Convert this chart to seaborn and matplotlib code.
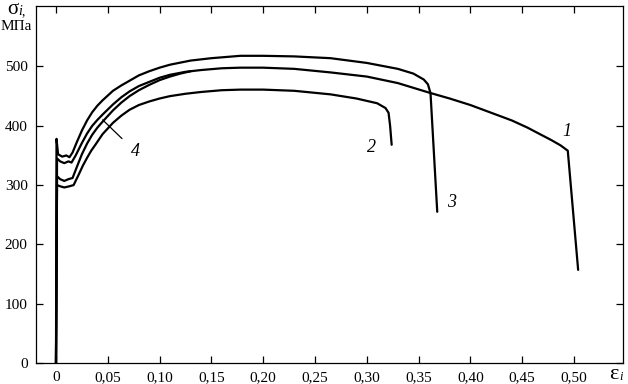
import matplotlib
matplotlib.use("Agg")
import matplotlib.pyplot as plt
import seaborn as sns
import pandas as pd

# ---- data (strain eps_i, stress sigma_i in MPa) ----
eps_1 = [0, 0.001, 0.004, 0.008, 0.012, 0.015, 0.019, 0.025, 0.030, 0.035, 0.040, 0.045,
         0.055, 0.063, 0.071, 0.08, 0.09, 0.10, 0.11, 0.125, 0.14, 0.16, 0.178, 0.2, 0.23,
         0.265, 0.3, 0.33, 0.36, 0.38, 0.40, 0.42, 0.44, 0.455, 0.467, 0.478, 0.487,
         0.494, 0.504]
sig_1 = [0, 345, 340, 337, 340, 338, 350, 371, 387, 400, 410, 419,
         436, 448, 458, 467, 474, 481, 486, 491, 494, 497, 498, 498, 496,
         490, 483, 472, 456, 446, 435, 422, 409, 397, 386, 376, 367,
         358, 157]

eps_2 = [0, 0.001, 0.004, 0.008, 0.013, 0.017, 0.022, 0.026, 0.03, 0.034, 0.038, 0.045,
         0.055, 0.063, 0.071, 0.08, 0.09, 0.10, 0.11, 0.125, 0.14, 0.16, 0.178, 0.2,
         0.23, 0.265, 0.29, 0.31, 0.318, 0.321, 0.3225, 0.324]
sig_2 = [0, 300, 298, 296, 298, 300, 318, 333, 346, 358, 368, 386,
         405, 417, 427, 435, 441, 446, 450, 454, 457, 460, 461, 461,
         459, 453, 446, 438, 430, 422, 400, 368]

eps_3 = [0, 0.0005, 0.002, 0.006, 0.010, 0.013, 0.016, 0.020, 0.025, 0.030, 0.035, 0.040,
         0.045, 0.055, 0.063, 0.071, 0.08, 0.09, 0.10, 0.11, 0.13, 0.15, 0.178, 0.2, 0.23,
         0.265, 0.3, 0.33, 0.345, 0.355, 0.359, 0.3615, 0.368]
sig_3 = [0, 378, 352, 348, 350, 347, 355, 372, 392, 409, 423, 434,
         443, 459, 468, 476, 485, 492, 498, 503, 510, 514, 518, 518, 517,
         514, 506, 496, 488, 478, 470, 455, 255]

eps_4 = [0, 0.001, 0.004, 0.008, 0.012, 0.016, 0.020, 0.025, 0.030, 0.035, 0.040, 0.045,
         0.055, 0.063, 0.071, 0.08, 0.09, 0.10, 0.11, 0.12, 0.13]
sig_4 = [0, 315, 310, 307, 310, 312, 330, 352, 370, 385, 397, 407,
         426, 439, 450, 460, 469, 477, 483, 488, 492]

curve_names = ["1", "2", "3", "4"]
x_ticks = [0, 0.05, 0.10, 0.15, 0.20, 0.25, 0.30, 0.35, 0.40, 0.45, 0.50]
x_tick_labels = ["0", "0,05", "0,10", "0,15", "0,20", "0,25", "0,30", "0,35", "0,40", "0,45", "0,50"]
y_ticks = [0, 100, 200, 300, 400, 500]
y_tick_labels = ["0", "100", "200", "300", "400", "500"]

frames = []
for name, e, s in zip(curve_names, [eps_1, eps_2, eps_3, eps_4], [sig_1, sig_2, sig_3, sig_4]):
    frames.append(pd.DataFrame({"eps": e, "sig": s, "curve": name}))
df = pd.concat(frames, ignore_index=True)

sns.set_style("ticks")
plt.rcParams["font.family"] = ["Liberation Serif", "DejaVu Serif"]

fig = plt.figure(figsize=(6.28, 3.84), dpi=100)
ax = fig.add_axes([36 / 628, 1 - 363 / 384, (623 - 36) / 628, (363 - 6) / 384])

sns.lineplot(data=df, x="eps", y="sig", units="curve", estimator=None, sort=False,
             color="black", linewidth=1.6, ax=ax, legend=False)

ax.set_xlim(-0.0193, 0.5473)
ax.set_ylim(0, 602)
ax.set_xticks(x_ticks)
ax.set_xticklabels(x_tick_labels)
ax.set_yticks(y_ticks)
ax.set_yticklabels(y_tick_labels)
ax.tick_params(direction="in", length=5, width=0.9, top=True, right=True,
               labelsize=11, colors="black", pad=6)
ax.set_xlabel("")
ax.set_ylabel("")
for sp in ax.spines.values():
    sp.set_visible(True)
    sp.set_linewidth(0.9)
    sp.set_color("black")

# curve labels
lab_kw = dict(fontsize=13, style="italic", color="black", ha="center", va="center")
ax.text(0.493, 390, "1", **lab_kw)
ax.text(0.305, 363, "2", **lab_kw)
ax.text(0.382, 270, "3", **lab_kw)
ax.annotate("4", xy=(0.045, 410), xytext=(0.077, 356), textcoords="data",
            arrowprops=dict(arrowstyle="-", color="black", lw=0.9, shrinkA=6, shrinkB=0),
            **lab_kw)

# axis titles
fig.text(7 / 628, 1 - 14 / 384, "σ", fontsize=15, color="black", ha="left", va="baseline")
fig.text(18 / 628, 1 - 15 / 384, "i", fontsize=10, style="italic", color="black",
         ha="left", va="baseline")
fig.text(22 / 628, 1 - 15 / 384, ",", fontsize=10, color="black", ha="left", va="baseline")
fig.text(1 / 628, 1 - 30 / 384, "МПа", fontsize=11, color="black", ha="left", va="baseline")
fig.text(609 / 628, 1 - 379 / 384, "ε", fontsize=16, color="black", ha="left", va="baseline")
fig.text(619 / 628, 1 - 380 / 384, "i", fontsize=9, style="italic", color="black",
         ha="left", va="baseline")

fig.savefig("out.png", dpi=100)
